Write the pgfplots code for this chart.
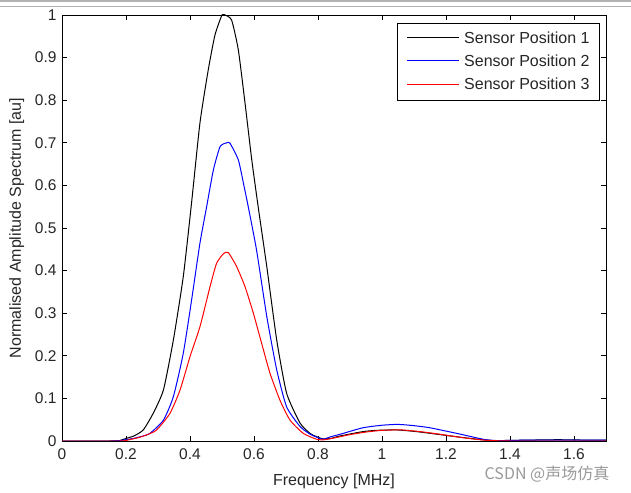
\documentclass[border=0pt]{standalone}
\usepackage{fontspec}
\setmainfont{Liberation Sans}
\newfontfamily\cjk{Noto Sans CJK SC}
\usepackage{pgfplots}
\pgfplotsset{compat=1.18}
\definecolor{sone}{RGB}{0,0,0}
\definecolor{stwo}{RGB}{0,0,255}
\definecolor{sthree}{RGB}{255,0,0}
\begin{document}
\begin{tikzpicture}
\useasboundingbox (0pt,0pt) rectangle (631pt,492pt);
% window frame lines at the top
\draw[black!30, line width=1.5pt] (0pt,491.2pt) -- (631pt,491.2pt);
\draw[black!30, line width=0.8pt] (0pt,486pt) -- (631pt,486pt);
\begin{axis}[
    at={(62pt,51pt)}, anchor=south west,
    scale only axis, width=544pt, height=426pt,
    xmin=0, xmax=1.7, ymin=0, ymax=1,
    xtick={0,0.2,0.4,0.6,0.8,1,1.2,1.4,1.6},
    ytick={0,0.1,0.2,0.3,0.4,0.5,0.6,0.7,0.8,0.9,1},
    major tick length=5pt,
    tick style={black, line width=0.6pt},
    axis line style={black, line width=0.8pt},
    /pgf/number format/assume math mode=true,
    ticklabel style={font=\fontsize{15.5}{18}\selectfont, text=black!85},
    xticklabel style={yshift=-4pt},
    yticklabel style={xshift=-2pt},
    label style={font=\fontsize{16}{19}\selectfont, text=black!85},
    xlabel={Frequency [MHz]},
    ylabel={Normalised Amplitude Spectrum [au]},
    xlabel style={at={(axis description cs:0.5,-0.1033)}, anchor=base},
    ylabel style={at={(axis description cs:-0.083,0.5)}, anchor=center},
]
\addplot[sone, line width=1pt, smooth, tension=0.35] coordinates {
(0,0) (0.15,0) (0.18,0.001) (0.20,0.006) (0.225,0.012) (0.254,0.026)
(0.285,0.065) (0.317,0.12) (0.348,0.237) (0.379,0.386) (0.405,0.56)
(0.431,0.746) (0.457,0.871) (0.478,0.953) (0.5,1.0) (0.509,1.0)
(0.53,0.988) (0.551,0.918) (0.572,0.793) (0.593,0.66) (0.613,0.55)
(0.64,0.409) (0.671,0.237) (0.702,0.112) (0.744,0.042) (0.775,0.018)
(0.796,0.01) (0.815,0.005) (0.84,0.006) (0.87,0.012) (0.94,0.022)
(0.983,0.025) (1.046,0.026) (1.108,0.022) (1.192,0.014) (1.233,0.01)
(1.3,0.004) (1.35,0.001) (1.45,0.002) (1.55,0.003) (1.65,0.002) (1.7,0.002)};
\addplot[stwo, line width=1pt, smooth, tension=0.35] coordinates {
(0,0) (0.16,0) (0.19,0.002) (0.223,0.006) (0.25,0.011) (0.275,0.018)
(0.317,0.049) (0.348,0.104) (0.379,0.206) (0.405,0.331) (0.431,0.464)
(0.452,0.55) (0.473,0.636) (0.494,0.691) (0.515,0.700) (0.525,0.699)
(0.551,0.66) (0.567,0.605) (0.582,0.55) (0.608,0.448) (0.64,0.292)
(0.671,0.167) (0.702,0.08) (0.744,0.034) (0.775,0.016) (0.796,0.009)
(0.815,0.004) (0.84,0.01) (0.87,0.016) (0.94,0.031) (1.0,0.037)
(1.05,0.039) (1.1,0.036) (1.15,0.031) (1.233,0.018) (1.317,0.004)
(1.36,0.001) (1.45,0.002) (1.55,0.002) (1.7,0.002)};
\addplot[sthree, line width=1pt, smooth, tension=0.35] coordinates {
(0,0) (0.18,0) (0.21,0.003) (0.244,0.009) (0.27,0.016) (0.296,0.026)
(0.3375,0.065) (0.369,0.12) (0.4,0.198) (0.431,0.268) (0.4625,0.362)
(0.483,0.417) (0.505,0.44) (0.52,0.442) (0.546,0.409) (0.572,0.362)
(0.598,0.3) (0.624,0.229) (0.65,0.159) (0.681,0.096) (0.7125,0.049)
(0.754,0.018) (0.796,0.004) (0.82,0.003) (0.85,0.007) (0.9,0.015)
(0.95,0.021) (1.0,0.025) (1.06,0.026) (1.12,0.022) (1.18,0.016)
(1.25,0.008) (1.32,0.002) (1.4,0) (1.7,0)};
\end{axis}
% legend box (the axis legend lost its sample colours with this driver)
\node[draw=black, line width=0.8pt, fill=white, anchor=north east,
      inner xsep=10pt, inner ysep=3.5pt, text=black!85,
      font=\fontsize{16}{23.3}\selectfont]
    at (600pt,469pt) {%
    \begin{tabular}{@{}l@{\hspace{5pt}}l@{}}
    \textcolor{sone}{\rule[5.2pt]{52pt}{1pt}} & Sensor Position 1\\
    \textcolor{stwo}{\rule[5.2pt]{52pt}{1pt}} & Sensor Position 2\\
    \textcolor{sthree}{\rule[5.2pt]{52pt}{1pt}} & Sensor Position 3
    \end{tabular}};
\node[font=\cjk\fontsize{16}{19}\selectfont, text=black!40, anchor=center]
    at (547pt,17.5pt) {CSDN @声场仿真};
\end{tikzpicture}
\end{document}
